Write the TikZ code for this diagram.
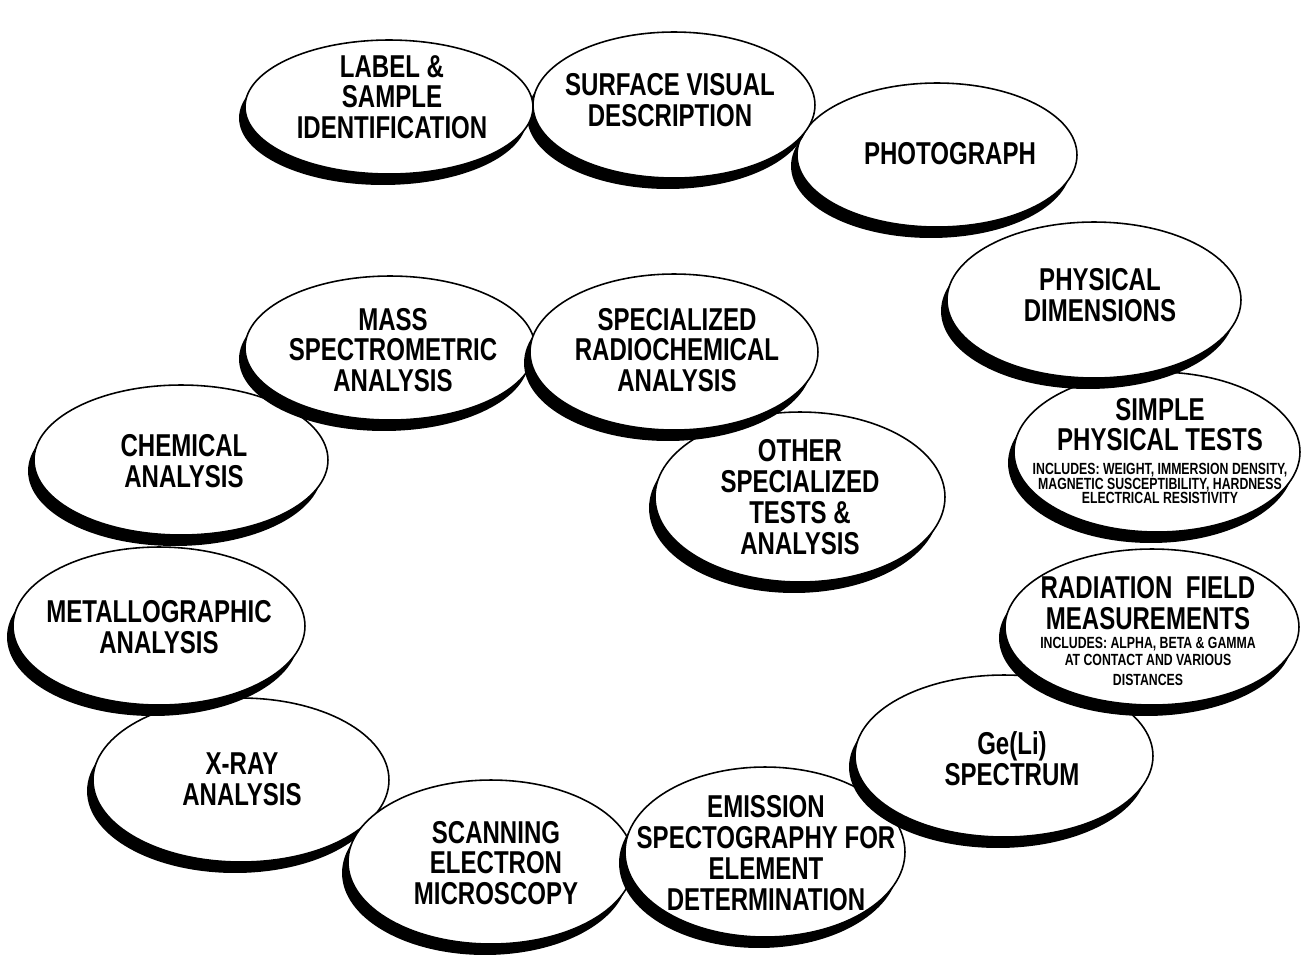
\documentclass[tikz,border=0pt]{standalone}
\usepackage{fontspec}
\usetikzlibrary{shapes.geometric,shadows}
\newfontfamily\condf[FakeStretch=0.76]{Liberation Sans}
\newcommand{\bigf}{\condf\bfseries\fontsize{18}{17.5}\selectfont}
\newcommand{\smallf}{\condf\bfseries\fontsize{9.2}{8.5}\selectfont}
\begin{document}
\begin{tikzpicture}[x=0.02cm,y=-0.02cm,
  bub/.style={ellipse,draw,fill=white,line width=0.9pt,inner sep=0pt,
    drop shadow={shadow xshift=-0.12cm,shadow yshift=-0.22cm,fill=black,opacity=1}},
  txt/.style={align=center,font=\bigf,inner sep=0pt}]
\path[use as bounding box,fill=white] (0,0) rectangle (1302,961);

\node[bub,minimum width=5.92cm,minimum height=3.28cm] (xray) at (241,780) {};
\node[txt] (xray-t) at (242,779) {X-RAY\\ANALYSIS};

\node[bub,minimum width=5.72cm,minimum height=3.28cm] (sem) at (491,862) {};
\node[txt] (sem-t) at (496,863) {SCANNING\\ELECTRON\\MICROSCOPY};

\node[bub,minimum width=5.60cm,minimum height=3.40cm] (emission) at (765,852) {};
\node[txt] (emission-t) at (766,853) {EMISSION\\SPECTOGRAPHY FOR\\ELEMENT\\DETERMINATION};

\node[bub,minimum width=5.96cm,minimum height=3.24cm] (geli) at (1004,756) {};
\node[txt] (geli-t) at (1012,759) {Ge(Li)\\SPECTRUM};

\node[bub,minimum width=5.88cm,minimum height=3.12cm] (radfield) at (1152,627) {};
\node[txt] (radfield-t) at (1148,631) {RADIATION~~FIELD\\MEASUREMENTS\\[-6.4pt]
  {\smallf INCLUDES: ALPHA, BETA \& GAMMA}\\[-7.8pt]
  {\smallf AT CONTACT AND VARIOUS}\\[-6.5pt]
  {\smallf DISTANCES}};

\node[bub,minimum width=5.72cm,minimum height=3.20cm] (simple) at (1157,452) {};
\node[txt] (simple-t) at (1160,451) {SIMPLE\\PHYSICAL TESTS\\[-4.1pt]
  {\smallf INCLUDES: WEIGHT, IMMERSION DENSITY,}\\[-9.2pt]
  {\smallf MAGNETIC SUSCEPTIBILITY, HARDNESS}\\[-9.2pt]
  {\smallf ELECTRICAL RESISTIVITY}};

\node[bub,minimum width=5.88cm,minimum height=3.12cm] (dims) at (1094,300) {};
\node[txt] (dims-t) at (1100,295) {PHYSICAL\\DIMENSIONS};

\node[bub,minimum width=5.60cm,minimum height=2.88cm] (photo) at (937,155) {};
\node[txt] (photo-t) at (950,154) {PHOTOGRAPH};

\node[bub,minimum width=5.64cm,minimum height=2.92cm] (surface) at (674,105) {};
\node[txt] (surface-t) at (670,100) {SURFACE VISUAL\\DESCRIPTION};

\node[bub,minimum width=5.76cm,minimum height=2.68cm] (label) at (389,107) {};
\node[txt] (label-t) at (392,97) {LABEL \&\\SAMPLE\\IDENTIFICATION};

\node[bub,minimum width=5.84cm,minimum height=3.16cm] (metallo) at (159,626) {};
\node[txt] (metallo-t) at (159,627) {METALLOGRAPHIC\\ANALYSIS};

\node[bub,minimum width=5.88cm,minimum height=3.00cm] (chem) at (181,460) {};
\node[txt] (chem-t) at (184,461) {CHEMICAL\\ANALYSIS};

\node[bub,minimum width=5.80cm,minimum height=2.88cm] (mass) at (390,348) {};
\node[txt] (mass-t) at (393,350) {MASS\\SPECTROMETRIC\\ANALYSIS};

\node[bub,minimum width=5.80cm,minimum height=3.40cm] (other) at (800,497) {};
\node[txt] (other-t) at (800,497) {OTHER\\SPECIALIZED\\TESTS \&\\ANALYSIS};

\node[bub,minimum width=5.76cm,minimum height=3.12cm] (radchem) at (674,352) {};
\node[txt] (radchem-t) at (677,350) {SPECIALIZED\\RADIOCHEMICAL\\ANALYSIS};
\end{tikzpicture}
\end{document}
